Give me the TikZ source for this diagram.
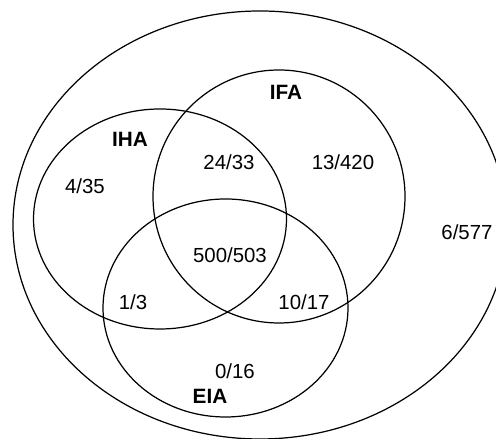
\documentclass[tikz,border=0pt]{standalone}
\usepackage{fontspec}
\setmainfont{Liberation Sans}
\begin{document}
\begin{tikzpicture}[line width=0.7pt,
    count/.style={inner sep=0pt,font=\fontsize{11.6}{14}\selectfont},
    setname/.style={inner sep=0pt,font=\fontsize{11.8}{14}\selectfont\bfseries}]
                \useasboundingbox (0,0) rectangle (9.92,8.78);
                \clip (0,0) rectangle (9.92,8.78);
                % sets
                \draw (5.20,4.28) ellipse [x radius=4.94cm, y radius=4.28cm];
                \draw (3.20,4.40) ellipse [x radius=2.53cm, y radius=2.20cm];
                \draw (5.58,4.85) ellipse [x radius=2.52cm, y radius=2.53cm];
                \draw (4.51,2.62) ellipse [x radius=2.45cm, y radius=2.18cm];

                \path (5.72,6.94) node[setname] (IFA) {IFA};
                \path (2.60,6.00) node[setname] (IHA) {IHA};
                \path (4.20,0.86) node[setname] (EIA) {EIA};

                \path (1.70,5.06) node[count] (onlyIHA) {4/35};
                \path (4.58,5.54) node[count] (IHAIFA) {24/33};
                \path (6.86,5.54) node[count] (onlyIFA) {13/420};
                \path (4.60,3.68) node[count] (all) {500/503};
                \path (9.34,4.14) node[count] (none) {6/577};
                \path (2.66,2.74) node[count] (IHAEIA) {1/3};
                \path (6.08,2.74) node[count] (IFAEIA) {10/17};
                \path (4.70,1.36) node[count] (onlyEIA) {0/16};
              \end{tikzpicture}
\end{document}
